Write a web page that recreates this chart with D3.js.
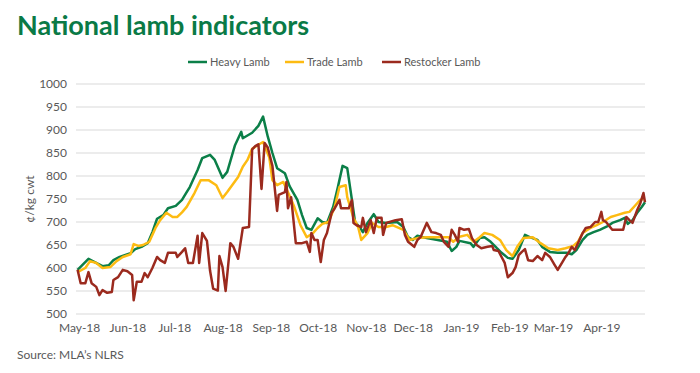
<!DOCTYPE html>
<html>
<head>
<meta charset="utf-8">
<script src="https://cdn.jsdelivr.net/npm/d3@7"></script>
<style>
  body { margin: 0; background: #fff; }
  svg text { font-family: Lato, "Liberation Sans", sans-serif; }
</style>
</head>
<body>
<svg id="chart" width="700" height="373"></svg>
<script>
// series names + colours
var seriesNames = ["Heavy Lamb", "Trade Lamb", "Restocker Lamb"];
var seriesColors = ["#0b7f48", "#fdbb12", "#9b2a1e"];

// y ticks (c/kg cwt)
var yTicks = [500, 550, 600, 650, 700, 750, 800, 850, 900, 950, 1000];

// values
var heavyLamb = [
  ["2018-04-30", 596], ["2018-05-07", 620], ["2018-05-11", 613], ["2018-05-16", 604],
  ["2018-05-20", 606], ["2018-05-23", 617], ["2018-05-27", 624], ["2018-06-03", 632],
  ["2018-06-06", 641], ["2018-06-10", 646], ["2018-06-14", 654], ["2018-06-17", 678],
  ["2018-06-20", 707], ["2018-06-24", 715], ["2018-06-27", 730], ["2018-07-02", 735],
  ["2018-07-06", 748], ["2018-07-09", 765], ["2018-07-11", 776], ["2018-07-16", 813],
  ["2018-07-19", 839], ["2018-07-24", 846], ["2018-07-27", 835], ["2018-08-01", 796],
  ["2018-08-04", 809], ["2018-08-09", 867], ["2018-08-13", 896], ["2018-08-14", 882],
  ["2018-08-20", 894], ["2018-08-24", 909], ["2018-08-27", 929], ["2018-08-30", 886],
  ["2018-09-02", 850], ["2018-09-05", 817], ["2018-09-10", 806], ["2018-09-13", 778],
  ["2018-09-18", 748], ["2018-09-21", 715], ["2018-09-24", 687], ["2018-09-27", 683],
  ["2018-10-01", 708], ["2018-10-04", 700], ["2018-10-07", 698], ["2018-10-11", 733],
  ["2018-10-14", 776], ["2018-10-17", 822], ["2018-10-20", 817], ["2018-10-23", 748],
  ["2018-10-25", 700], ["2018-10-28", 689], ["2018-10-30", 678], ["2018-11-02", 698],
  ["2018-11-06", 717], ["2018-11-09", 700], ["2018-11-14", 698], ["2018-11-21", 700],
  ["2018-11-25", 689], ["2018-11-28", 667], ["2018-12-01", 661], ["2018-12-04", 670],
  ["2018-12-10", 665], ["2018-12-17", 661], ["2018-12-23", 657], ["2018-12-26", 637],
  ["2018-12-29", 646], ["2018-12-31", 659], ["2019-01-07", 654], ["2019-01-09", 646],
  ["2019-01-13", 665], ["2019-01-16", 667], ["2019-01-20", 657], ["2019-01-24", 643],
  ["2019-01-27", 633], ["2019-01-31", 622], ["2019-02-03", 620], ["2019-02-07", 639],
  ["2019-02-11", 672], ["2019-02-14", 667], ["2019-02-19", 661], ["2019-02-22", 646],
  ["2019-02-27", 635], ["2019-03-04", 633], ["2019-03-10", 633], ["2019-03-13", 630],
  ["2019-03-16", 639], ["2019-03-20", 661], ["2019-03-23", 672], ["2019-03-27", 678],
  ["2019-03-31", 683], ["2019-04-05", 691], ["2019-04-08", 698], ["2019-04-13", 704],
  ["2019-04-16", 709], ["2019-04-18", 696], ["2019-04-21", 704], ["2019-04-24", 720],
  ["2019-04-27", 733], ["2019-04-29", 743]
];

var tradeLamb = [
  ["2018-04-30", 591], ["2018-05-05", 600], ["2018-05-08", 615], ["2018-05-12", 611],
  ["2018-05-16", 600], ["2018-05-21", 602], ["2018-05-25", 615], ["2018-05-29", 624],
  ["2018-06-03", 630], ["2018-06-05", 652], ["2018-06-08", 648], ["2018-06-11", 650],
  ["2018-06-15", 657], ["2018-06-19", 687], ["2018-06-22", 704], ["2018-06-26", 720],
  ["2018-06-30", 711], ["2018-07-03", 711], ["2018-07-06", 721], ["2018-07-09", 733],
  ["2018-07-14", 763], ["2018-07-18", 791], ["2018-07-23", 791], ["2018-07-28", 780],
  ["2018-08-01", 752], ["2018-08-04", 765], ["2018-08-11", 798], ["2018-08-14", 820],
  ["2018-08-17", 835], ["2018-08-20", 859], ["2018-08-24", 868], ["2018-08-27", 874],
  ["2018-08-31", 840], ["2018-09-02", 791], ["2018-09-05", 780], ["2018-09-09", 787],
  ["2018-09-13", 757], ["2018-09-16", 733], ["2018-09-20", 693], ["2018-09-24", 667],
  ["2018-09-28", 676], ["2018-10-01", 687], ["2018-10-04", 696], ["2018-10-08", 700],
  ["2018-10-12", 733], ["2018-10-15", 776], ["2018-10-19", 780], ["2018-10-20", 754],
  ["2018-10-24", 709], ["2018-10-27", 689], ["2018-10-29", 661], ["2018-11-02", 676],
  ["2018-11-05", 698], ["2018-11-09", 689], ["2018-11-14", 689], ["2018-11-18", 693],
  ["2018-11-25", 683], ["2018-11-29", 661], ["2018-12-04", 665], ["2018-12-10", 667],
  ["2018-12-17", 667], ["2018-12-24", 667], ["2018-12-27", 657], ["2018-12-31", 668],
  ["2019-01-05", 672], ["2019-01-09", 657], ["2019-01-13", 667], ["2019-01-16", 676],
  ["2019-01-21", 672], ["2019-01-26", 661], ["2019-01-30", 639], ["2019-02-03", 626],
  ["2019-02-06", 646], ["2019-02-10", 665], ["2019-02-16", 667], ["2019-02-21", 654],
  ["2019-02-26", 643], ["2019-03-04", 639], ["2019-03-09", 643], ["2019-03-14", 648],
  ["2019-03-17", 657], ["2019-03-20", 676], ["2019-03-25", 687], ["2019-03-29", 693],
  ["2019-04-02", 700], ["2019-04-07", 711], ["2019-04-11", 715], ["2019-04-16", 720],
  ["2019-04-19", 722], ["2019-04-23", 737], ["2019-04-26", 748], ["2019-04-28", 750]
];

var restockerLamb = [
  ["2018-04-30", 596], ["2018-05-02", 567], ["2018-05-05", 567], ["2018-05-07", 591],
  ["2018-05-09", 567], ["2018-05-12", 559], ["2018-05-14", 541], ["2018-05-16", 552],
  ["2018-05-19", 546], ["2018-05-22", 548], ["2018-05-23", 574], ["2018-05-26", 580],
  ["2018-05-29", 596], ["2018-06-01", 593], ["2018-06-04", 585], ["2018-06-05", 530],
  ["2018-06-07", 570], ["2018-06-10", 570], ["2018-06-12", 589], ["2018-06-14", 580],
  ["2018-06-17", 600], ["2018-06-20", 624], ["2018-06-22", 617], ["2018-06-25", 611],
  ["2018-06-27", 633], ["2018-07-02", 633], ["2018-07-03", 624], ["2018-07-06", 635],
  ["2018-07-08", 643], ["2018-07-10", 611], ["2018-07-13", 611], ["2018-07-16", 670],
  ["2018-07-17", 611], ["2018-07-19", 676], ["2018-07-22", 659], ["2018-07-24", 594],
  ["2018-07-26", 555], ["2018-07-29", 551], ["2018-07-30", 626], ["2018-08-01", 602],
  ["2018-08-03", 550], ["2018-08-06", 654], ["2018-08-08", 646], ["2018-08-11", 620],
  ["2018-08-14", 687], ["2018-08-18", 689], ["2018-08-20", 858], ["2018-08-22", 865],
  ["2018-08-24", 869], ["2018-08-26", 772], ["2018-08-28", 872], ["2018-08-30", 862],
  ["2018-09-02", 822], ["2018-09-05", 724], ["2018-09-06", 759], ["2018-09-10", 765],
  ["2018-09-11", 787], ["2018-09-12", 730], ["2018-09-14", 754], ["2018-09-17", 654],
  ["2018-09-21", 654], ["2018-09-24", 657], ["2018-09-26", 635], ["2018-09-27", 676],
  ["2018-09-29", 661], ["2018-10-01", 661], ["2018-10-03", 613], ["2018-10-05", 661],
  ["2018-10-07", 676], ["2018-10-10", 720], ["2018-10-12", 730], ["2018-10-15", 748],
  ["2018-10-16", 730], ["2018-10-19", 730], ["2018-10-21", 730], ["2018-10-23", 748],
  ["2018-10-24", 698], ["2018-10-26", 693], ["2018-10-29", 689], ["2018-10-30", 709],
  ["2018-11-01", 678], ["2018-11-04", 704], ["2018-11-06", 676], ["2018-11-08", 709],
  ["2018-11-11", 709], ["2018-11-12", 672], ["2018-11-14", 698], ["2018-11-20", 704],
  ["2018-11-24", 706], ["2018-11-26", 672], ["2018-11-28", 657], ["2018-12-02", 646],
  ["2018-12-04", 661], ["2018-12-06", 667], ["2018-12-10", 698], ["2018-12-13", 678],
  ["2018-12-16", 676], ["2018-12-19", 672], ["2018-12-21", 657], ["2018-12-24", 646],
  ["2018-12-26", 683], ["2018-12-28", 672], ["2018-12-30", 657], ["2018-12-31", 687],
  ["2019-01-03", 683], ["2019-01-06", 685], ["2019-01-08", 665], ["2019-01-11", 650],
  ["2019-01-14", 643], ["2019-01-18", 646], ["2019-01-21", 648], ["2019-01-22", 639],
  ["2019-01-25", 637], ["2019-01-27", 624], ["2019-01-29", 611], ["2019-01-31", 580],
  ["2019-02-03", 589], ["2019-02-05", 602], ["2019-02-07", 628], ["2019-02-09", 635],
  ["2019-02-11", 641], ["2019-02-13", 617], ["2019-02-16", 615], ["2019-02-19", 626],
  ["2019-02-22", 617], ["2019-02-24", 633], ["2019-02-27", 624], ["2019-03-02", 607],
  ["2019-03-04", 596], ["2019-03-07", 613], ["2019-03-09", 624], ["2019-03-11", 633],
  ["2019-03-13", 646], ["2019-03-15", 639], ["2019-03-17", 654], ["2019-03-20", 676],
  ["2019-03-22", 687], ["2019-03-25", 689], ["2019-03-28", 700], ["2019-03-30", 700],
  ["2019-04-01", 722], ["2019-04-02", 704], ["2019-04-04", 700], ["2019-04-08", 683],
  ["2019-04-11", 683], ["2019-04-15", 683], ["2019-04-17", 711], ["2019-04-19", 704],
  ["2019-04-21", 698], ["2019-04-24", 726], ["2019-04-26", 741], ["2019-04-28", 763],
  ["2019-04-29", 743]
];

var parseDate = d3.timeParse("%Y-%m-%d");
var allSeries = [heavyLamb, tradeLamb, restockerLamb].map(function (s) {
  return s.map(function (d) { return { date: parseDate(d[0]), value: d[1] }; });
});

var svg = d3.select("svg#chart");

var x = d3.scaleTime()
  .domain([parseDate("2018-04-29"), parseDate("2019-04-29")])
  .range([76, 645]);
var y = d3.scaleLinear().domain([500, 1000]).range([314, 84]);

// title
svg.append("text")
  .attr("x", 17).attr("y", 35)
  .style("font-size", "27px").style("font-weight", "bold")
  .style("fill", "#0a7a46")
  .text("National lamb indicators");

// gridlines
svg.append("g")
  .selectAll("line")
  .data(yTicks)
  .enter()
  .append("line")
  .attr("x1", 76).attr("x2", 645)
  .attr("y1", d => y(d)).attr("y2", d => y(d))
  .style("stroke", "#d9d9d9")
  .style("stroke-width", 1);

// y axis labels
var yAxis = d3.axisLeft(y).tickValues(yTicks).tickFormat(d3.format("d")).tickSize(0).tickPadding(9);
var gy = svg.append("g").attr("transform", "translate(76,0)").call(yAxis);
gy.select(".domain").remove();
gy.selectAll("text").style("font-size", "12px").style("fill", "#595959")
  .style("font-family", "Lato, 'Liberation Sans', sans-serif");

// x axis labels
var months = d3.timeMonth.range(parseDate("2018-05-01"), parseDate("2019-04-02"));
var xAxis = d3.axisBottom(x).tickValues(months).tickFormat(d3.timeFormat("%b-%y")).tickSize(0).tickPadding(9);
var gx = svg.append("g").attr("transform", "translate(0,314)").call(xAxis);
gx.select(".domain").remove();
gx.selectAll("text").style("font-size", "12px").style("fill", "#595959")
  .style("font-family", "Lato, 'Liberation Sans', sans-serif");

// axis title
svg.append("text")
  .attr("transform", "translate(34,199) rotate(-90)")
  .attr("text-anchor", "middle")
  .style("font-size", "12px").style("fill", "#595959")
  .text("\u00a2/kg cwt");

// lines
var line = d3.line().x(d => x(d.date)).y(d => y(d.value));
svg.append("g")
  .selectAll("path")
  .data(allSeries)
  .enter()
  .append("path")
  .attr("d", line)
  .style("fill", "none")
  .style("stroke", (d, i) => seriesColors[i])
  .style("stroke-width", 2.5)
  .style("stroke-linejoin", "round");

// legend
var legendX = [188, 285, 382];
var legend = svg.append("g")
  .selectAll("g")
  .data(seriesNames)
  .enter()
  .append("g")
  .attr("transform", (d, i) => "translate(" + legendX[i] + ",62)");
legend.append("line")
  .attr("x1", 0).attr("x2", 19).attr("y1", 0).attr("y2", 0)
  .style("stroke", (d, i) => seriesColors[i])
  .style("stroke-width", 2.5);
legend.append("text")
  .attr("x", 22).attr("y", 4)
  .style("font-size", "11px").style("fill", "#595959")
  .text(d => d);

// source
svg.append("text")
  .attr("x", 17).attr("y", 359)
  .style("font-size", "12px").style("fill", "#595959")
  .text("Source: MLA\u2019s NLRS");
</script>
</body>
</html>
